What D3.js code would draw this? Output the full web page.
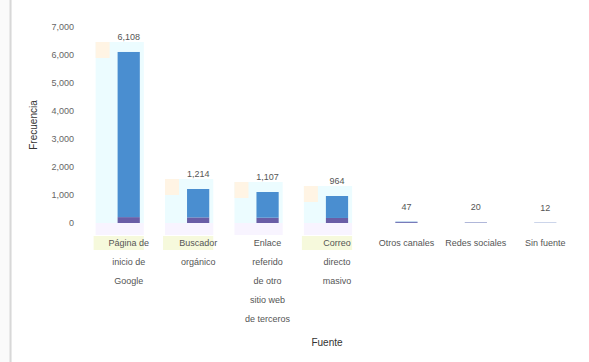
<!DOCTYPE html>
<html><head><meta charset="utf-8">
<script src="https://cdn.jsdelivr.net/npm/d3@7"></script>
<style>
html,body{margin:0;padding:0;background:#fafafa;}
svg{display:block;font-family:"Liberation Sans",Arial,sans-serif;}
</style></head>
<body>
<svg id="c" width="589" height="362"></svg>
<script>
const categories = [
  "Página de|inicio de|Google",
  "Buscador|orgánico",
  "Enlace|referido|de otro|sitio web|de terceros",
  "Correo|directo|masivo",
  "Otros canales",
  "Redes sociales",
  "Sin fuente"
];
const baseValues = [210, 200, 190, 180, 30, 14, 6];
const topValues = [5898, 1014, 917, 784, 17, 6, 6];
const totalLabels = ["6,108", "1,214", "1,107", "964", "47", "20", "12"];
const yTicks = [0, 1000, 2000, 3000, 4000, 5000, 6000, 7000];
const yTitle = "Frecuencia";
const xTitle = "Fuente";

const svg = d3.select("#c");
svg.append("rect").attr("x",12).attr("y",0).attr("width",577).attr("height",362).attr("fill","#ffffff");
svg.append("line").attr("x1",10.5).attr("x2",10.5).attr("y1",0).attr("y2",362).attr("stroke","#d8d8d8").attr("stroke-width",2);

const x = d3.scaleBand().domain(categories).range([94, 580]).paddingInner(0.68).paddingOuter(0.34);
const y = d3.scaleLinear().domain([0, 7000]).range([223, 27]);

const g = svg.append("g");
// highlight backgrounds (first four categories)
categories.slice(0,4).forEach((c,i)=>{
  const bx = x(c);
  const tot = baseValues[i]+topValues[i];
  g.append("rect").attr("x",bx-22).attr("y",y(tot)-10).attr("width",x.bandwidth()+26)
    .attr("height",y(0)-y(tot)+10).attr("fill","#ecfcff");
  g.append("rect").attr("x",bx-22).attr("y",y(0)).attr("width",x.bandwidth()+26)
    .attr("height",12).attr("fill","#f8f4ff");
  g.append("rect").attr("x",bx-22).attr("y",y(tot)-10).attr("width",14)
    .attr("height",16).attr("fill","#fff4e4");
  g.append("rect").attr("x",bx-24).attr("y",236).attr("width",x.bandwidth()+28)
    .attr("height",14).attr("fill", i===2 ? "#ffffff" : "#f6f9dc");
});

// bars
g.selectAll(".b0").data(categories).join("rect")
  .attr("x",d=>x(d)).attr("width",x.bandwidth())
  .attr("y",(d,i)=>y(baseValues[i])).attr("height",(d,i)=>y(0)-y(baseValues[i]))
  .attr("fill","#6a5ea6");
g.selectAll(".b1").data(categories).join("rect")
  .attr("x",d=>x(d)).attr("width",x.bandwidth())
  .attr("y",(d,i)=>y(baseValues[i]+topValues[i])).attr("height",(d,i)=>y(baseValues[i])-y(baseValues[i]+topValues[i]))
  .attr("fill","#4a8ed0");

// value labels
g.selectAll(".vl").data(categories).join("text")
  .attr("x",d=>x(d)+x.bandwidth()/2)
  .attr("y",(d,i)=>y(baseValues[i]+topValues[i])-12)
  .attr("text-anchor","middle").attr("font-size",9).attr("fill","#555")
  .text((d,i)=>totalLabels[i]);

// y axis
const ya = svg.append("g").attr("transform","translate(78,0)")
  .call(d3.axisLeft(y).tickValues(yTicks).tickFormat(d3.format(",")).tickSize(0).tickPadding(4));
ya.select(".domain").remove();
ya.selectAll("text").attr("font-size",9).attr("fill","#666").attr("font-family","Liberation Sans, Arial, sans-serif");

svg.append("text").attr("transform","translate(37,125) rotate(-90)").attr("text-anchor","middle")
  .attr("font-size",10).attr("fill","#333").text(yTitle);

// x axis labels (wrapped)
const xl = svg.append("g");
categories.forEach(c=>{
  const lines = c.split("|");
  const t = xl.append("text").attr("text-anchor","middle").attr("font-size",9).attr("fill","#555");
  lines.forEach((l,j)=>{
    t.append("tspan").attr("x",x(c)+x.bandwidth()/2).attr("y",246+j*19).text(l);
  });
});
svg.append("text").attr("x",327).attr("y",346).attr("text-anchor","middle")
  .attr("font-size",10).attr("fill","#333").text(xTitle);
</script>
</body></html>
